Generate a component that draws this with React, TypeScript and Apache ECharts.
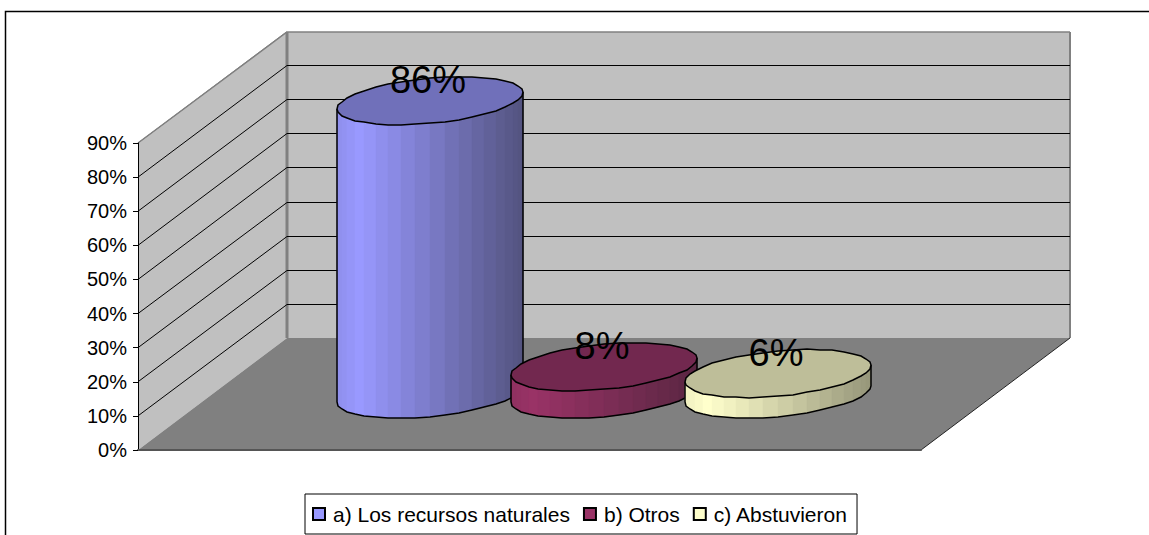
import React, { useEffect, useRef } from "react";
import * as echarts from "echarts";

const categories = [""];
const seriesNames = ["a) Los recursos naturales", "b) Otros", "c) Abstuvieron"];
const seriesValues = [[86], [8], [6]];
const axisTicks = [10, 20, 30, 40, 50, 60, 70, 80, 90];

const lightColors = ["#9999FF", "#993366", "#FFFFCC"];
const darkColors = ["#53537F", "#5A2642", "#96967A"];
const topColors = ["#7070BA", "#72284F", "#BEBE99"];

const FONT = '"Liberation Sans", Arial, sans-serif';
const DEPTH_X = 149;
const DEPTH_Y = -112;
const GAP = 1.5;
const DISC_DEPTH = 32 / 149;

function hex(c: string) {
  return [1, 3, 5].map((i) => parseInt(c.slice(i, i + 2), 16));
}
function mix(a: string, b: string, f: number) {
  const A = hex(a);
  const B = hex(b);
  return `rgb(${A.map((v, i) => Math.round(v + (B[i] - v) * f)).join(",")})`;
}

function wallItem(params: any, api: any) {
  const [x0, y0] = api.coord([0, 0]);
  const band = api.size([1, 0])[0];
  const left = x0 - band / 2;
  const right = x0 + band / 2;
  const topY = api.coord([0, 90])[1];
  const bx = left + DEPTH_X;
  const bxr = right + DEPTH_X;
  const by = y0 + DEPTH_Y;
  const byt = topY + DEPTH_Y + 1;
  const grey = "#808080";
  return {
    type: "group",
    children: [
      { type: "polygon", shape: { points: [[left, y0], [left, topY], [bx, byt], [bx, by]] }, style: { fill: "#C0C0C0", stroke: null } },
      { type: "polygon", shape: { points: [[bx, by], [bx, byt], [bxr, byt], [bxr, by]] }, style: { fill: "#C0C0C0", stroke: null } },
      { type: "polygon", shape: { points: [[left, y0], [bx, by], [bxr, by], [right, y0]] }, style: { fill: "#808080", stroke: null } },
      { type: "line", shape: { x1: left, y1: topY, x2: bx, y2: byt }, style: { stroke: grey, lineWidth: 1.5 } },
      { type: "line", shape: { x1: bx, y1: byt, x2: bxr, y2: byt }, style: { stroke: grey, lineWidth: 1.5 } },
      { type: "line", shape: { x1: bxr, y1: byt, x2: bxr, y2: by }, style: { stroke: grey, lineWidth: 2 } },
      { type: "line", shape: { x1: bx, y1: byt, x2: bx, y2: by }, style: { stroke: grey, lineWidth: 3 } },
      { type: "line", shape: { x1: right, y1: y0, x2: bxr, y2: by }, style: { stroke: "#222", lineWidth: 1 } },
    ],
  };
}

function gridItem(params: any, api: any) {
  const v = api.value(1);
  const [cx, y] = api.coord([0, v]);
  const band = api.size([1, 0])[0];
  const left = cx - band / 2;
  const right = cx + band / 2;
  const px = Math.round(y + DEPTH_Y) + 0.5;
  if (v === 90) {
    return {
      type: "line",
      shape: { x1: left, y1: y, x2: left + DEPTH_X, y2: px },
      style: { stroke: "#808080", lineWidth: 1 },
    };
  }
  return {
    type: "group",
    children: [
      { type: "line", shape: { x1: left, y1: y, x2: left + DEPTH_X, y2: px }, style: { stroke: "#000", lineWidth: 1 } },
      { type: "line", shape: { x1: left + DEPTH_X, y1: px, x2: right + DEPTH_X, y2: px }, style: { stroke: "#000", lineWidth: 1 } },
    ],
  };
}

function cylinderItem(idx: number) {
  return (params: any, api: any) => {
    const v = api.value(1);
    const top = api.coord([0, v]);
    const base = api.coord([0, 0]);
    const band = api.size([1, 0])[0];
    const step = band / (seriesNames.length + GAP);
    const R = step / 2;
    const cx = base[0] + DEPTH_X / 2 + (idx - (seriesNames.length - 1) / 2) * step;
    const cyBase = base[1] + DEPTH_Y / 2;
    const cyTop = top[1] + DEPTH_Y / 2;
    const dx = DEPTH_X * DISC_DEPTH;
    const dy = DEPTH_Y * DISC_DEPTH;
    const pt = (t: number, cy: number) => [
      Math.round(cx + R * Math.cos(t) + dx * Math.sin(t)),
      Math.round(cy + dy * Math.sin(t)),
    ];
    const t0 = Math.atan2(dx, R);
    const N = 20;
    const children: any[] = [];
    const halfW = Math.hypot(R, dx);
    const left = cx - halfW;
    const width = 2 * halfW;
    const arc: number[][] = [];
    for (let k = 0; k <= N; k++) {
      const t = Math.PI + t0 + (k * Math.PI) / N;
      arc.push(pt(t, cyBase));
      if (k < N) {
        const t2 = Math.PI + t0 + ((k + 1) * Math.PI) / N;
        const a = pt(t, cyTop);
        const b = pt(t2, cyTop);
        const c = pt(t2, cyBase);
        const d = pt(t, cyBase);
        const f = ((a[0] + b[0]) / 2 - left) / width;
        const fill =
          f < 0.12
            ? mix(darkColors[idx], lightColors[idx], 0.85 + (f / 0.12) * 0.15)
            : mix(lightColors[idx], darkColors[idx], (f - 0.12) / 0.88);
        children.push({
          type: "polygon",
          shape: { points: [a, b, c, d] },
          style: { fill, stroke: fill, lineWidth: 0.5 },
        });
      }
    }
    const ring: number[][] = [];
    for (let k = 0; k < N * 2; k++) ring.push(pt((k * Math.PI) / N + t0, cyTop));
    children.push({
      type: "polyline",
      shape: { points: [pt(Math.PI + t0, cyTop), ...arc, pt(t0, cyTop)] },
      style: { fill: null, stroke: "#000", lineWidth: 1.5 },
    });
    children.push({
      type: "polygon",
      shape: { points: ring },
      style: { fill: topColors[idx], stroke: "#000", lineWidth: 1.5 },
    });
    children.push({
      type: "text",
      style: {
        text: `${v}%`,
        x: cx - 2,
        y: cyTop - 21,
        fontSize: 38,
        fontFamily: FONT,
        fill: "#000",
        align: "center",
        verticalAlign: "middle",
      },
    });
    return { type: "group", children };
  };
}

export default function App() {
  const ref = useRef<HTMLDivElement>(null);
  useEffect(() => {
    document.body.style.margin = "0";
    const chart = echarts.init(ref.current!, undefined, { renderer: "svg" });
    chart.setOption({
      animation: false,
      backgroundColor: "#fff",
      grid: { left: 138, top: 143, width: 783, height: 307 },
      xAxis: {
        type: "category",
        data: categories,
        z: 10,
        axisLine: { show: true, lineStyle: { color: "#555", width: 2 } },
        axisTick: { show: false },
        axisLabel: { show: false },
      },
      yAxis: {
        type: "value",
        min: 0,
        max: 90,
        interval: 10,
        z: 10,
        splitLine: { show: false },
        axisLine: { show: true, lineStyle: { color: "#000", width: 1 } },
        axisTick: { show: true, length: 5, lineStyle: { color: "#000" } },
        axisLabel: { formatter: "{value}%", fontSize: 20, fontFamily: FONT, color: "#000", margin: 11 },
      },
      legend: {
        data: seriesNames,
        left: 305,
        top: 494,
        orient: "horizontal",
        icon: "rect",
        itemWidth: 12,
        itemHeight: 12,
        itemGap: 13,
        padding: [9, 9, 9, 7],
        borderColor: "#000",
        borderWidth: 1,
        backgroundColor: "#fff",
        textStyle: { fontSize: 21, fontFamily: FONT, color: "#000", lineHeight: 22, padding: [0, 0, 0, 3] },
        selectedMode: false,
      },
      graphic: [
        {
          type: "rect",
          silent: true,
          shape: { x: 5.5, y: 11.5, width: 1160, height: 540 },
          style: { fill: "none", stroke: "#000", lineWidth: 1.5 },
          z: -1,
        },
      ],
      series: [
        {
          type: "custom",
          name: "walls",
          coordinateSystem: "cartesian2d",
          clip: false,
          silent: true,
          z: 1,
          renderItem: wallItem,
          data: [[0, 0]],
        },
        {
          type: "custom",
          name: "gridlines",
          coordinateSystem: "cartesian2d",
          clip: false,
          silent: true,
          z: 2,
          renderItem: gridItem,
          data: axisTicks.map((t) => [0, t]),
        },
        ...seriesNames.map((name, i) => ({
          type: "custom",
          name,
          coordinateSystem: "cartesian2d",
          clip: false,
          silent: true,
          z: 3 + i,
          itemStyle: { color: lightColors[i], borderColor: "#000", borderWidth: 1.5 },
          renderItem: cylinderItem(i),
          data: seriesValues[i].map((v, k) => [k, v]),
        })),
      ],
    });
    return () => chart.dispose();
  }, []);
  return <div ref={ref} style={{ width: 1149, height: 535 }} />;
}
